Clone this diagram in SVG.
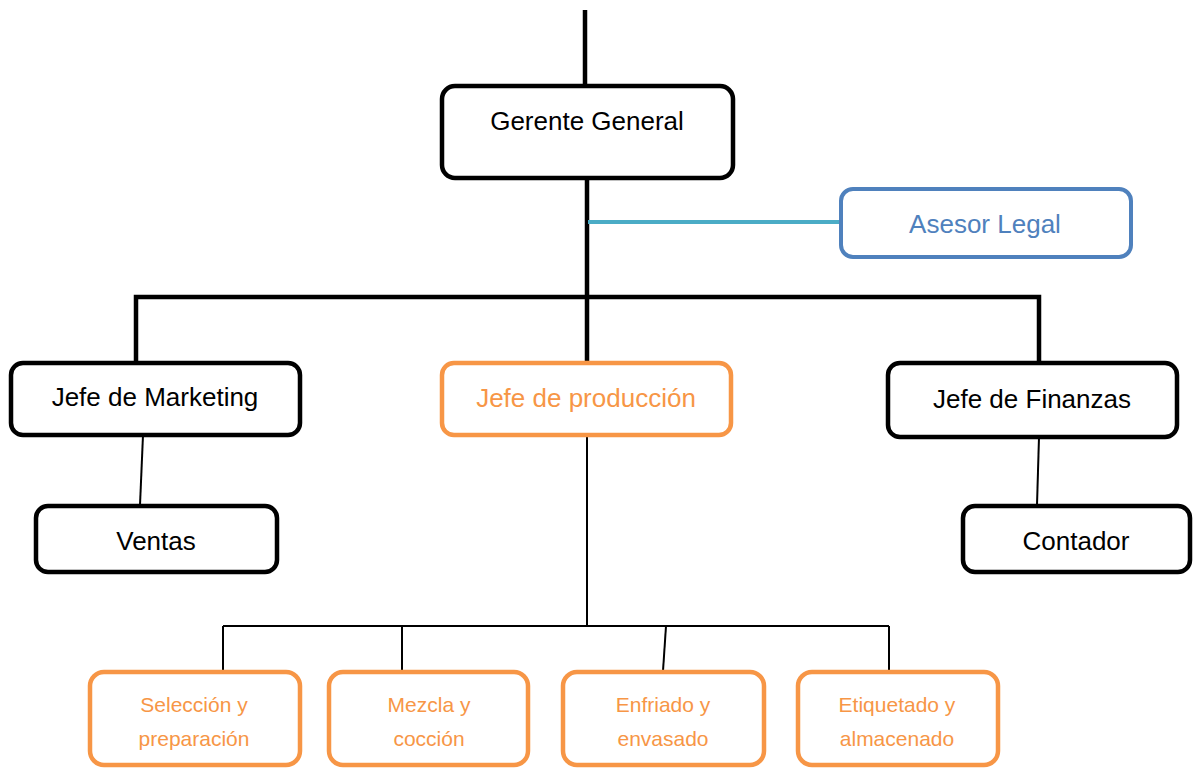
<svg xmlns="http://www.w3.org/2000/svg" width="1195" height="768" viewBox="0 0 1195 768">
<style>
.box{fill:#fff;stroke:#000;stroke-width:4.5}
.org{fill:#fff;stroke:#F79646;stroke-width:4.5}
.blu{fill:#fff;stroke:#4F81BD;stroke-width:4}
text{font-family:"Liberation Sans",Arial,sans-serif;text-anchor:middle}
.t{font-size:26px;fill:#000}
.to{font-size:26px;fill:#F79646}
.tb{font-size:26px;fill:#4F81BD}
.ts{font-size:21px;fill:#F79646}
.thick{stroke:#000;stroke-width:4.5;fill:none}
.thin{stroke:#000;stroke-width:2;fill:none}
</style>
<rect width="1195" height="768" fill="#fff"/>
<g id="connectors">
<line class="thick" x1="585" y1="10" x2="585" y2="88"/>
<line class="thick" x1="587" y1="178" x2="587" y2="362"/>
<line x1="588" y1="222" x2="841" y2="222" stroke="#4BACC6" stroke-width="4"/>
<polyline class="thick" points="136,362 136,297 1039,297 1039,362"/>
<line class="thin" x1="143" y1="435" x2="140" y2="505"/>
<line class="thin" x1="1039" y1="437" x2="1037" y2="505"/>
<line class="thin" x1="587" y1="435" x2="587" y2="626"/>
<line class="thin" x1="223" y1="626" x2="889" y2="626"/>
<line class="thin" x1="223" y1="626" x2="223" y2="671"/>
<line class="thin" x1="402" y1="626" x2="402" y2="671"/>
<line class="thin" x1="666" y1="626" x2="663" y2="671"/>
<line class="thin" x1="889" y1="626" x2="889" y2="671"/>
</g>
<g id="gerente">
<rect class="box" x="442" y="86" width="291" height="92" rx="13"/>
<text class="t" x="587" y="130">Gerente General</text>
</g>
<g id="asesor">
<rect class="blu" x="841" y="189" width="290" height="68" rx="12"/>
<text class="tb" x="985" y="233">Asesor Legal</text>
</g>
<g id="marketing">
<rect class="box" x="11" y="363" width="289" height="72" rx="12"/>
<text class="t" x="155" y="406">Jefe de Marketing</text>
</g>
<g id="produccion">
<rect class="org" x="442" y="363" width="289" height="72" rx="12"/>
<text class="to" x="586" y="407">Jefe de producción</text>
</g>
<g id="finanzas">
<rect class="box" x="888" y="363" width="289" height="74" rx="12"/>
<text class="t" x="1032" y="408">Jefe de Finanzas</text>
</g>
<g id="ventas">
<rect class="box" x="36" y="506" width="241" height="66" rx="12"/>
<text class="t" x="156" y="550">Ventas</text>
</g>
<g id="contador">
<rect class="box" x="963" y="506" width="227" height="66" rx="12"/>
<text class="t" x="1076" y="550">Contador</text>
</g>
<g id="seleccion">
<rect class="org" x="90" y="672" width="210" height="93" rx="14"/>
<text class="ts" x="194" y="712">Selección y</text>
<text class="ts" x="194" y="746">preparación</text>
</g>
<g id="mezcla">
<rect class="org" x="329" y="672" width="199" height="93" rx="14"/>
<text class="ts" x="429" y="712">Mezcla y</text>
<text class="ts" x="429" y="746">cocción</text>
</g>
<g id="enfriado">
<rect class="org" x="563" y="672" width="201" height="93" rx="14"/>
<text class="ts" x="663" y="712">Enfriado y</text>
<text class="ts" x="663" y="746">envasado</text>
</g>
<g id="etiquetado">
<rect class="org" x="798" y="672" width="200" height="93" rx="14"/>
<text class="ts" x="897" y="712">Etiquetado y</text>
<text class="ts" x="897" y="746">almacenado</text>
</g>
</svg>
